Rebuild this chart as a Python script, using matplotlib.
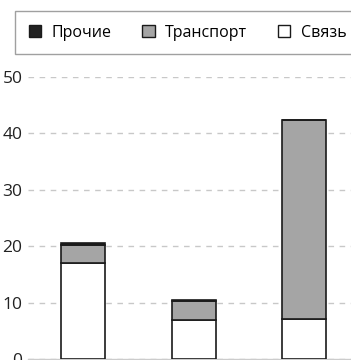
import matplotlib
matplotlib.use("Agg")
import matplotlib.pyplot as plt
from matplotlib.patches import Patch

plt.rcParams['font.family'] = ['Open Sans', 'DejaVu Sans']

categories = ["A", "B", "C"]
svyaz = [17.0, 6.9, 7.1]
transport = [3.3, 3.3, 35.2]
prochie = [0.3, 0.2, 0.15]

series_names = ["Прочие", "Транспорт", "Связь"]
colors = {"Прочие": "#222222", "Транспорт": "#a5a5a5", "Связь": "#ffffff"}

fig = plt.figure(figsize=(3.51, 3.60), dpi=100)
ax = fig.add_axes([28 / 351, 1 / 360, 331.5 / 351, 282 / 360])

x = list(range(len(categories)))
w = 0.4
edge = dict(edgecolor="#1a1a1a", linewidth=1.2)
ax.bar(x, svyaz, w, color=colors["Связь"], zorder=3, **edge)
ax.bar(x, transport, w, bottom=svyaz, color=colors["Транспорт"], zorder=3, **edge)
bottom2 = [a + b for a, b in zip(svyaz, transport)]
ax.bar(x, prochie, w, bottom=bottom2, color=colors["Прочие"], zorder=3, **edge)

ax.set_xlim(-0.5, 2.5)
ax.set_ylim(0, 50)
ax.set_yticks([0, 10, 20, 30, 40, 50])
ax.set_xticks(x)
ax.set_xticklabels([])
ax.tick_params(axis="y", length=0, pad=4, labelsize=12.5, colors="#222222")
ax.tick_params(axis="x", length=0)
ax.grid(axis="y", color="#c8c8c8", linestyle=(0, (4, 4)), linewidth=1.0, zorder=0)
for s in ["left", "right", "top"]:
    ax.spines[s].set_visible(False)
ax.spines["bottom"].set_color("#cccccc")
ax.spines["bottom"].set_linewidth(1.0)

handles = [Patch(facecolor=colors[n], edgecolor="#1a1a1a", linewidth=1.0, label=n)
           for n in series_names]
leg = fig.legend(handles=handles, ncol=3, loc="upper left",
                 bbox_to_anchor=(15 / 351, 1 - 11 / 360), borderaxespad=0,
                 fontsize=11.5, handlelength=0.8, handleheight=0.8,
                 handletextpad=0.65, columnspacing=1.9, borderpad=0.85,
                 fancybox=False, frameon=True)
leg.get_frame().set_edgecolor("#888888")
leg.get_frame().set_linewidth(1.0)

fig.savefig("out.png", dpi=100)
